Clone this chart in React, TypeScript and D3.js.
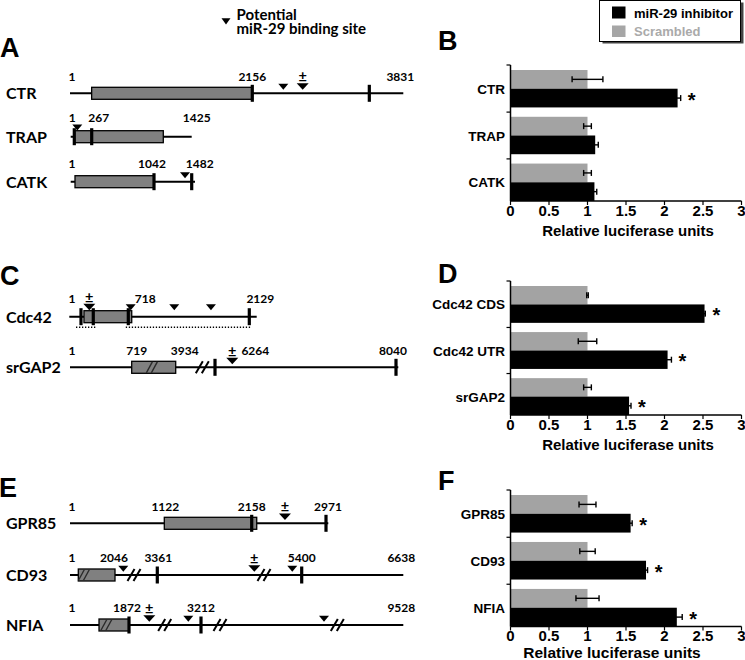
import React from "react";
import * as d3 from "d3";

const GENE_FONT = "Lato, 'Open Sans', sans-serif";
const ARIAL = "'Liberation Sans', Arial, sans-serif";

// ---------------- bar chart data ----------------
const B_CATS = ["CTR", "TRAP", "CATK"];
const B_SCRAMBLED = [1, 1, 1];
const B_SCRAMBLED_ERR = [0.2, 0.05, 0.05];
const B_INHIBITOR = [2.17, 1.1, 1.09];
const B_INHIBITOR_ERR = [0.04, 0.04, 0.03];
const B_SIGNIFICANT = [true, false, false];

const D_CATS = ["Cdc42 CDS", "Cdc42 UTR", "srGAP2"];
const D_SCRAMBLED = [1, 1, 1];
const D_SCRAMBLED_ERR = [0.01, 0.12, 0.05];
const D_INHIBITOR = [2.52, 2.04, 1.54];
const D_INHIBITOR_ERR = [0.01, 0.05, 0.025];
const D_SIGNIFICANT = [true, true, true];

const F_CATS = ["GPR85", "CD93", "NFIA"];
const F_SCRAMBLED = [1, 1, 1];
const F_SCRAMBLED_ERR = [0.11, 0.1, 0.15];
const F_INHIBITOR = [1.56, 1.76, 2.16];
const F_INHIBITOR_ERR = [0.02, 0.02, 0.07];
const F_SIGNIFICANT = [true, true, true];

const X_TICKS = [0, 0.5, 1, 1.5, 2, 2.5, 3];
const X_TICK_LABELS = ["0", "0.5", "1", "1.5", "2", "2.5", "3"];
const X_TITLE = "Relative luciferase units";
const LEGEND_LABELS = ["miR-29 inhibitor", "Scrambled"];
const SITE_LEGEND = ["Potential", "miR-29 binding site"];

// ---------------- gene schematic data (nucleotide positions) ----------------
const CTR_ANCHORS = [1, 2156, 3831];
const CTR_BOX = [236, 2156];
const CTR_TICKS = [2156, 3454];
const CTR_SITES = [2500, 2715];
const CTR_PM = [2715];
const CTR_LABELS = [1, 2156, 3831];

const TRAP_ANCHORS = [1, 267, 1425];
const TRAP_BOX = [1, 1096];
const TRAP_TICKS = [1, 267];
const TRAP_SITES = [47];
const TRAP_LABELS = [1, 267, 1425];

const CATK_ANCHORS = [1, 1042, 1482];
const CATK_BOX = [1, 1042];
const CATK_TICKS = [1042, 1482];
const CATK_SITES = [1404];
const CATK_LABELS = [1, 1042, 1482];

const CDC42_ANCHORS = [1, 718, 2129];
const CDC42_BOX = [46, 758];
const CDC42_TICKS = [1, 187, 718, 2129];
const CDC42_SITES = [127, 746, 1254, 1682];
const CDC42_PM = [127];
const CDC42_CONSTRUCTS = [[1, 224], [680, 2129]];
const CDC42_LABELS = [1, 718, 2129];

const SRGAP2_ANCHORS = [1, 719, 3934, 6264, 8040];
const SRGAP2_BOX = [719, 3934];
const SRGAP2_TICKS = [5552, 8040];
const SRGAP2_SITES = [6264];
const SRGAP2_PM = [6264];
const SRGAP2_BREAKS = [5070];
const SRGAP2_HATCH = [2300];
const SRGAP2_LABELS = [1, 719, 3934, 6264, 8040];

const GPR85_ANCHORS = [1, 1122, 2158, 2971];
const GPR85_BOX = [1122, 2213];
const GPR85_TICKS = [2158, 2971];
const GPR85_SITES = [2522];
const GPR85_PM = [2522];
const GPR85_LABELS = [1, 1122, 2158, 2971];

const CD93_ANCHORS = [1, 2046, 3361, 5400, 6638];
const CD93_BOX = [378, 2046];
const CD93_TICKS = [3361, 5400];
const CD93_SITES = [2304, 4731, 5267];
const CD93_PM = [4731];
const CD93_BREAKS = [2668, 4882];
const CD93_HATCH = [700];
const CD93_LABELS = [1, 2046, 3361, 5400, 6638];

const NFIA_ANCHORS = [1, 1872, 3212, 9528];
const NFIA_BOX = [921, 1872];
const NFIA_TICKS = [1872, 3212];
const NFIA_SITES = [2250, 2976, 7052];
const NFIA_PM = [2250];
const NFIA_BREAKS = [2555, 3836, 7499];
const NFIA_HATCH = [1200];
const NFIA_LABELS = [1, 1872, 3212, 9528];

type Gene = {
  name: string;
  anchors: number[];
  range: number[];
  y: number;
  lead: number;
  tail: number;
  box: number[];
  ticks: number[];
  sites: number[];
  pm: number[];
  breaks: number[];
  hatch: number[];
  dotted: number[][];
  labels: number[];
  labelDx: number[];
  labelDy: number;
  triTip: number;
};

const GENES: Gene[] = [
  { name: "CTR", anchors: CTR_ANCHORS, range: [72, 252.3, 403.3], y: 93.3, lead: 2, tail: 0, box: CTR_BOX, ticks: CTR_TICKS, sites: CTR_SITES, pm: CTR_PM, breaks: [], hatch: [], dotted: [], labels: CTR_LABELS, labelDx: [0, 0, -3], labelDy: -12, triTip: -3.5 },
  { name: "TRAP", anchors: TRAP_ANCHORS, range: [74.3, 91.7, 191.7], y: 136.7, lead: 3.6, tail: 0, box: TRAP_BOX, ticks: TRAP_TICKS, sites: TRAP_SITES, pm: [], breaks: [], hatch: [], dotted: [], labels: TRAP_LABELS, labelDx: [-2, 7, 5], labelDy: -15, triTip: -6.3 },
  { name: "CATK", anchors: CATK_ANCHORS, range: [75, 154, 191.7], y: 181.7, lead: 4.3, tail: 3.3, box: CATK_BOX, ticks: CATK_TICKS, sites: CATK_SITES, pm: [], breaks: [], hatch: [], dotted: [], labels: CATK_LABELS, labelDx: [-3, -2, 8], labelDy: -13.5, triTip: -3.4 },
  { name: "Cdc42", anchors: CDC42_ANCHORS, range: [81, 128.3, 249.3], y: 316.7, lead: 11.7, tail: 7.4, box: CDC42_BOX, ticks: CDC42_TICKS, sites: CDC42_SITES, pm: CDC42_PM, breaks: [], hatch: [], dotted: CDC42_CONSTRUCTS, labels: CDC42_LABELS, labelDx: [-9, 17, 11], labelDy: -13.4, triTip: -6.5 },
  { name: "srGAP2", anchors: SRGAP2_ANCHORS, range: [70, 131.7, 175.7, 232.3, 396], y: 367.3, lead: 0, tail: 2.3, box: SRGAP2_BOX, ticks: SRGAP2_TICKS, sites: SRGAP2_SITES, pm: SRGAP2_PM, breaks: SRGAP2_BREAKS, hatch: SRGAP2_HATCH, dotted: [], labels: SRGAP2_LABELS, labelDx: [2, 5, 9, 23, -3], labelDy: -12.3, triTip: -3 },
  { name: "GPR85", anchors: GPR85_ANCHORS, range: [70, 164.3, 251.7, 326], y: 523.3, lead: 0, tail: 2.3, box: GPR85_BOX, ticks: GPR85_TICKS, sites: GPR85_SITES, pm: GPR85_PM, breaks: [], hatch: [], dotted: [], labels: GPR85_LABELS, labelDx: [2, 1, 0, 2], labelDy: -12.6, triTip: -3.3 },
  { name: "CD93", anchors: CD93_ANCHORS, range: [70, 115, 157.3, 301.7, 403.3], y: 575, lead: 0, tail: 0, box: CD93_BOX, ticks: CD93_TICKS, sites: CD93_SITES, pm: CD93_PM, breaks: CD93_BREAKS, hatch: CD93_HATCH, dotted: [], labels: CD93_LABELS, labelDx: [2, -1, 1, 0, -2], labelDy: -13.3, triTip: -3.3 },
  { name: "NFIA", anchors: NFIA_ANCHORS, range: [70, 129, 201, 403.3], y: 625, lead: 0, tail: 0, box: NFIA_BOX, ticks: NFIA_TICKS, sites: NFIA_SITES, pm: NFIA_PM, breaks: NFIA_BREAKS, hatch: NFIA_HATCH, dotted: [], labels: NFIA_LABELS, labelDx: [2, -2, 0, -2], labelDy: -13.3, triTip: -3.3 },
];

function GeneRow({ g }: { g: Gene }) {
  const x = d3.scaleLinear().domain(g.anchors).range(g.range);
  const y = g.y;
  const x0 = x(g.anchors[0]) - g.lead;
  const x1 = x(g.anchors[g.anchors.length - 1]) + g.tail;
  const bx0 = x(g.box[0]);
  const bx1 = x(g.box[1]);
  return (
    <g>
      <text x={6} y={y + 5.8} fontFamily={GENE_FONT} fontWeight={700} fontSize={16}>
        {g.name}
      </text>
      <line x1={x0} x2={x1} y1={y} y2={y} stroke="#000" strokeWidth={2} />
      {g.dotted.map(([a, b], i) => (
        <line key={"d" + i} x1={x(a) - (i === 0 ? 5 : 0)} x2={x(b) + 1} y1={y + 10.6} y2={y + 10.6}
          stroke="#000" strokeWidth={1.4} strokeDasharray="1.3 1.7" />
      ))}
      <rect x={bx0} y={y - 6} width={bx1 - bx0} height={12} fill="#808080" stroke="#000" strokeWidth={1.3} />
      {g.hatch.map((h, i) => {
        const c = x(h);
        return (
          <g key={"h" + i} stroke="#2a2a2a" strokeWidth={1.4}>
            <line x1={c - 7} y1={y + 5.5} x2={c - 1} y2={y - 5.5} />
            <line x1={c - 2} y1={y + 5.5} x2={c + 4} y2={y - 5.5} />
          </g>
        );
      })}
      {g.ticks.map((t, i) => (
        <rect key={"t" + i} x={x(t) - 1.6} y={y - 8.5} width={3.2} height={17} fill="#000" />
      ))}
      {g.breaks.map((b, i) => {
        const c = x(b);
        return (
          <g key={"b" + i} stroke="#000" strokeWidth={2}>
            <line x1={c - 7.5} y1={y + 6} x2={c - 0.5} y2={y - 6} />
            <line x1={c - 1.5} y1={y + 6} x2={c + 5.5} y2={y - 6} />
          </g>
        );
      })}
      {g.sites.map((s, i) => {
        const c = x(s);
        const big = g.pm.includes(s);
        const w = big ? 6 : 5;
        const h = big ? 6.5 : 6;
        const tip = y + g.triTip;
        return (
          <g key={"s" + i}>
            <path d={`M${c - w},${tip - h}L${c + w},${tip - h}L${c},${tip}Z`} fill="#000" />
            {big && (
              <text x={c} y={tip - h - 1.2} textAnchor="middle" fontFamily={GENE_FONT} fontWeight={700} fontSize={14.5}>
                ±
              </text>
            )}
          </g>
        );
      })}
      {g.labels.map((l, i) => (
        <text key={"l" + i} x={x(l) + g.labelDx[i]} y={y + g.labelDy} textAnchor="middle"
          fontFamily={GENE_FONT} fontWeight={700} fontSize={12}>
          {String(l)}
        </text>
      ))}
    </g>
  );
}

const X_LEFT = 510.5;
const X_RIGHT = 741.5;

function BarPanel(props: {
  cats: string[]; scr: number[]; scrErr: number[]; inh: number[]; inhErr: number[]; sig: boolean[];
  top: number; bottom: number; titleSize: number; titleY: number; titleX: number; labelSize: number; tickDy: number;
}) {
  const { cats, scr, scrErr, inh, inhErr, sig, top, bottom, titleSize, titleY, titleX, labelSize, tickDy } = props;
  const x = d3.scaleLinear().domain([0, 3]).range([X_LEFT, X_RIGHT]);
  const band = d3.scaleBand<string>().domain(cats).range([top + 5, bottom]).paddingInner(0.2).paddingOuter(0);
  const bw = band.bandwidth();
  const gap = band.step() - bw;
  const sub = d3.scaleBand<string>().domain(["scr", "inh"]).range([0, bw]);
  const sh = sub.bandwidth();
  const errBar = (v: number, e: number, cy: number, key: string) => (
    <g key={key} stroke="#000" strokeWidth={1.4}>
      <line x1={x(v - e)} x2={x(v + e)} y1={cy} y2={cy} />
      <line x1={x(v - e)} x2={x(v - e)} y1={cy - 3} y2={cy + 3} />
      <line x1={x(v + e)} x2={x(v + e)} y1={cy - 3} y2={cy + 3} />
    </g>
  );
  return (
    <g fontFamily={ARIAL} fontWeight={700}>
      {cats.map((c, i) => {
        const y0 = band(c)!;
        const ys = y0 + sub("scr")!;
        const yi = y0 + sub("inh")!;
        return (
          <g key={c}>
            <rect x={x(0)} y={ys} width={x(scr[i]) - x(0)} height={sh} fill="#a3a3a3" />
            <rect x={x(0)} y={yi} width={x(inh[i]) - x(0)} height={sh} fill="#000" />
            {errBar(scr[i], scrErr[i], ys + sh / 2, "es")}
            {errBar(inh[i], inhErr[i], yi + sh / 2, "ei")}
            {sig[i] && (
              <text x={x(inh[i] + inhErr[i]) + 11} y={yi + sh / 2 + 8.5} textAnchor="middle" fontSize={20}>
                *
              </text>
            )}
            <text x={505} y={y0 + bw / 2 + 5} textAnchor="end" fontSize={labelSize}>
              {c}
            </text>
            <line x1={X_LEFT - 4} x2={X_LEFT} y1={i === 0 ? top : y0 - gap / 2} y2={i === 0 ? top : y0 - gap / 2}
              stroke="#000" strokeWidth={1.2} />
          </g>
        );
      })}
      <line x1={X_LEFT} x2={X_LEFT} y1={top} y2={bottom} stroke="#000" strokeWidth={1.5} />
      <line x1={X_LEFT} x2={X_RIGHT} y1={bottom} y2={bottom} stroke="#000" strokeWidth={1.5} />
      {X_TICKS.map((t, i) => (
        <g key={t}>
          <line x1={x(t)} x2={x(t)} y1={bottom} y2={bottom + 4} stroke="#000" strokeWidth={1.2} />
          <text x={x(t)} y={bottom + tickDy} textAnchor="middle" fontSize={15}>
            {X_TICK_LABELS[i]}
          </text>
        </g>
      ))}
      <text x={titleX} y={titleY} textAnchor="middle" fontSize={titleSize}>
        {X_TITLE}
      </text>
    </g>
  );
}

export default function App() {
  return (
    <svg width={745} height={660} viewBox="0 0 745 660"
      style={{ position: "absolute", left: 0, top: 0, background: "#fff" }}>
      <rect x={0} y={0} width={745} height={660} fill="#fff" />
      {/* site legend */}
      <path d="M221.5,18.3L230.5,18.3L226,24.5Z" fill="#000" />
      <text fontFamily={GENE_FONT} fontWeight={700} fontSize={15}>
        <tspan x={236.5} y={19.5}>{SITE_LEGEND[0]}</tspan>
        <tspan x={236.5} y={34}>{SITE_LEGEND[1]}</tspan>
      </text>

      {/* bar legend */}
      <rect x={602.5} y={2.5} width={141} height={41} fill="#444" />
      <rect x={599.5} y={0.5} width={141} height={41} fill="#fff" stroke="#000" strokeWidth={1} />
      <rect x={612} y={6.5} width={13.5} height={12} fill="#000" />
      <text x={634} y={17.5} fontFamily={ARIAL} fontWeight={700} fontSize={13}>{LEGEND_LABELS[0]}</text>
      <rect x={612} y={25.5} width={13.5} height={11.5} fill="#a6a6a6" />
      <text x={634} y={36} fontFamily={ARIAL} fontWeight={700} fontSize={13} fill="#aaaaaa">{LEGEND_LABELS[1]}</text>

      {/* panel letters */}
      <g fontFamily={ARIAL} fontWeight={700} fontSize={27}>
        <text x={0} y={57}>A</text>
        <text x={438} y={50}>B</text>
        <text x={0} y={285}>C</text>
        <text x={438} y={283}>D</text>
        <text x={-1} y={497}>E</text>
        <text x={438} y={490}>F</text>
      </g>

      {GENES.map((g) => (
        <GeneRow key={g.name} g={g} />
      ))}

      <BarPanel cats={B_CATS} scr={B_SCRAMBLED} scrErr={B_SCRAMBLED_ERR} inh={B_INHIBITOR} inhErr={B_INHIBITOR_ERR}
        sig={B_SIGNIFICANT} top={65} bottom={201} titleSize={15} titleY={236} titleX={628} labelSize={13.5} tickDy={15} />
      <BarPanel cats={D_CATS} scr={D_SCRAMBLED} scrErr={D_SCRAMBLED_ERR} inh={D_INHIBITOR} inhErr={D_INHIBITOR_ERR}
        sig={D_SIGNIFICANT} top={281} bottom={415} titleSize={15} titleY={450} titleX={628} labelSize={13.5} tickDy={15} />
      <BarPanel cats={F_CATS} scr={F_SCRAMBLED} scrErr={F_SCRAMBLED_ERR} inh={F_INHIBITOR} inhErr={F_INHIBITOR_ERR}
        sig={F_SIGNIFICANT} top={490} bottom={626.5} titleSize={15.5} titleY={658} titleX={612} labelSize={13.5} tickDy={14} />
    </svg>
  );
}
